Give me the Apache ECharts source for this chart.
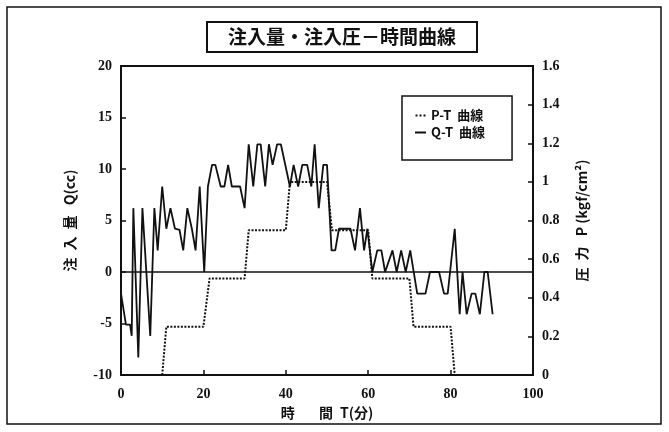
<!DOCTYPE html>
<html>
<head>
<meta charset="utf-8">
<script src="https://cdn.jsdelivr.net/npm/echarts@6/dist/echarts.min.js"></script>
<style>
  html, body { margin: 0; padding: 0; background: #fff; }
  #chart { width: 669px; height: 432px; }
</style>
</head>
<body>
<div id="chart"></div>
<script>
// Injection quantity Q (cc) against elapsed time T (min)
const qTime = [0, 1.2, 2.2, 2.6, 3.0, 4.2, 5.2, 7.1, 8.1, 8.9, 10.0, 11.0, 12.0, 13.1, 14.2, 15.1,
  16.1, 17.2, 18.1, 19.1, 20.2, 21.1, 22.1, 22.9, 24.2, 25.1, 26.0, 26.9, 28.9, 30.0, 31.0,
  32.1, 33.1, 33.9, 35.0, 35.9, 36.8, 37.9, 38.8, 41.0, 41.9, 43.0, 44.0, 45.2, 46.2, 47.0,
  48.0, 49.1, 50.0, 51.1, 52.0, 52.9, 55.7, 56.8, 58.0, 59.0, 59.8, 61.0, 62.2, 63.2, 64.1,
  65.9, 66.9, 68.0, 69.1, 70.2, 71.9, 73.9, 75.0, 77.2, 78.4, 79.3, 81.0, 82.2, 82.9, 83.9,
  85.1, 86.0, 87.1, 88.2, 89.0, 90.2];
const qValue = [-2.1, -5.1, -5.1, -6.2, 6.2, -8.3, 6.2, -6.2, 6.2, 2.1, 8.3, 4.2, 6.2, 4.2, 4.1, 2.1,
  6.2, 4.2, 2.1, 8.3, 0, 8.3, 10.4, 10.4, 8.3, 8.3, 10.4, 8.3, 8.3, 6.2, 12.4,
  8.3, 12.4, 12.4, 8.3, 12.4, 10.4, 12.4, 12.4, 8.3, 10.4, 8.3, 10.4, 10.4, 8.3, 12.4,
  6.2, 10.4, 10.4, 2.1, 2.1, 4.2, 4.2, 2.1, 6.2, 2.1, 4.2, 0, 2.1, 2.1, 0,
  2.1, 0, 2.1, 0, 2.1, -2.1, -2.1, 0, 0, -2.1, -2.1, 4.2, -4.1, 0, -4.1,
  -2.1, -2.1, -4.1, 0, 0, -4.1];

// Injection pressure P (kgf/cm²) against elapsed time T (min)
const pTime  = [10, 11, 20, 21.5, 30, 31, 40, 41, 50, 51.2, 60, 61, 70, 71, 80, 81];
const pValue = [0, 0.25, 0.25, 0.5, 0.5, 0.75, 0.75, 1.0, 1.0, 0.75, 0.75, 0.5, 0.5, 0.25, 0.25, 0];

const seriesNames = ['P-T  曲線', 'Q-T  曲線'];

const zip = (xs, ys) => xs.map((x, i) => [x, ys[i]]);

const FONT = "'Liberation Serif','Noto Sans CJK JP',serif";
const CJK = "'Noto Sans CJK JP','Liberation Serif',serif";
const ink = '#111';

// legend glyphs: a row of dots for the pressure curve, a bar for the quantity curve
const dotIcon = 'path://M0,0h2v2h-2zM4,0h2v2h-2zM8,0h2v2h-2z';

const chart = echarts.init(document.getElementById('chart'), null, { renderer: 'canvas' });

chart.setOption({
  animation: false,
  backgroundColor: '#fff',
  title: {
    text: '注入量・注入圧－時間曲線',
    left: 207,
    top: 22,
    padding: [5, 21, 6, 21],
    borderColor: ink,
    borderWidth: 2,
    textStyle: { fontFamily: CJK, fontWeight: 'bold', fontSize: 19, color: ink }
  },
  legend: {
    orient: 'vertical',
    left: 402,
    top: 96,
    padding: [13, 27, 21, 13],
    itemWidth: 11,
    itemHeight: 2,
    itemGap: 4,
    borderColor: ink,
    borderWidth: 1.5,
    data: [
      { name: seriesNames[0], icon: dotIcon },
      { name: seriesNames[1], icon: 'rect' }
    ],
    textStyle: { fontFamily: CJK, fontWeight: 'bold', fontSize: 13, color: ink }
  },
  graphic: [{
    type: 'rect',
    shape: { x: 7, y: 7, width: 654, height: 417 },
    style: { fill: 'none', stroke: ink, lineWidth: 1.5 },
    silent: true
  }],
  grid: {
    left: 121, right: 136, top: 66, bottom: 57,
    show: true, borderColor: ink, borderWidth: 2
  },
  xAxis: {
    type: 'value',
    min: 0, max: 100, interval: 20,
    name: '時\u3000\u2002 間\u2002T(分)',
    nameLocation: 'middle',
    nameGap: 28,
    nameTextStyle: { fontFamily: CJK, fontWeight: 'bold', fontSize: 14, color: ink },
    axisLine: { onZero: false, lineStyle: { color: ink, width: 2 } },
    axisTick: { inside: true, length: 5, lineStyle: { color: ink, width: 1.5 } },
    axisLabel: { margin: 12, fontFamily: FONT, fontWeight: 'bold', fontSize: 14, color: ink },
    splitLine: { show: false }
  },
  yAxis: [{
    type: 'value',
    min: -10, max: 20, interval: 5,
    position: 'left',
    name: '注\u2002入\u2002量\u2002 Q(cc)',
    nameLocation: 'middle',
    nameGap: 44,
    nameTextStyle: { fontFamily: CJK, fontWeight: 'bold', fontSize: 14, color: ink },
    axisLine: { show: true, onZero: false, lineStyle: { color: ink, width: 2 } },
    axisTick: { show: true, inside: true, length: 5, lineStyle: { color: ink, width: 1.5 } },
    axisLabel: { margin: 9, fontFamily: FONT, fontWeight: 'bold', fontSize: 14, color: ink },
    splitLine: { show: false }
  }, {
    type: 'value',
    min: 0, max: 1.6, interval: 0.2,
    position: 'right',
    name: '圧\u2002力\u2002 P (kgf/cm²)',
    nameLocation: 'middle',
    nameGap: 42,
    nameRotate: 90,
    nameTextStyle: { fontFamily: CJK, fontWeight: 'bold', fontSize: 14, color: ink },
    axisLine: { show: true, onZero: false, lineStyle: { color: ink, width: 2 } },
    axisTick: { show: true, inside: true, length: 5, lineStyle: { color: ink, width: 1.5 } },
    axisLabel: { margin: 9, fontFamily: FONT, fontWeight: 'bold', fontSize: 14, color: ink },
    splitLine: { show: false }
  }],
  series: [{
    name: seriesNames[0],
    type: 'line',
    yAxisIndex: 1,
    data: zip(pTime, pValue),
    symbol: 'none',
    lineStyle: { color: ink, width: 2, type: [2, 1.5] },
    itemStyle: { color: ink },
    z: 3
  }, {
    name: seriesNames[1],
    type: 'line',
    yAxisIndex: 0,
    data: zip(qTime, qValue),
    symbol: 'none',
    lineStyle: { color: ink, width: 1.8 },
    itemStyle: { color: ink },
    z: 4,
    markLine: {
      silent: true,
      symbol: 'none',
      label: { show: false },
      lineStyle: { color: ink, width: 1.5, type: 'solid' },
      data: [{ yAxis: 0 }]
    }
  }]
});
</script>
</body>
</html>
